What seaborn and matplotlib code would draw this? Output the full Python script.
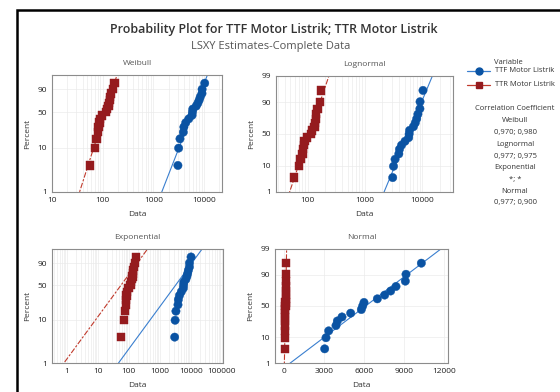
import numpy as np
import pandas as pd
import matplotlib
matplotlib.use('Agg')
import matplotlib.pyplot as plt
import seaborn as sns
from matplotlib.lines import Line2D
from matplotlib.patches import Rectangle
from matplotlib.ticker import LogLocator, NullFormatter
from statistics import NormalDist

# Data (sorted times, n = 17 each)
ttf = [3050, 3150, 3350, 3900, 4000, 4350, 5000, 5800, 5900, 6000,
       7000, 7550, 8000, 8400, 9100, 9150, 10300]
ttr = [57, 70, 75, 81, 83, 86, 88, 98, 115, 120,
       131, 135, 138, 141, 148, 162, 172]
series_names = ['TTF Motor Listrik', 'TTR Motor Listrik']

weibull_pct_ticks = [1, 10, 50, 90]
normal_pct_ticks = [1, 10, 50, 90, 99]
weibull_x_ticks = [10, 100, 1000, 10000]
lognormal_x_ticks = [100, 1000, 10000]
exponential_x_ticks = [1, 10, 100, 1000, 10000, 100000]
normal_x_ticks = [0, 3000, 6000, 9000, 12000]

corr_labels = ['Weibull', '0,970; 0,980', 'Lognormal', '0,977; 0,975',
               'Exponential', '*; *', 'Normal', '0,977; 0,900']

# colours
pt_colors = {'TTF Motor Listrik': '#0a53a3', 'TTR Motor Listrik': '#951b1e'}
ln_colors = {'TTF Motor Listrik': '#3a7fcf', 'TTR Motor Listrik': '#c0392b'}
marker_map = {'TTF Motor Listrik': 'o', 'TTR Motor Listrik': 's'}

nd = NormalDist()


def tf_weib(p):
    p = np.asarray(p, dtype=float)
    return np.log(-np.log(1 - p))


def tf_norm(p):
    return np.array([nd.inv_cdf(v) for v in np.atleast_1d(p)])


def median_ranks(n):
    i = np.arange(1, n + 1)
    return (i - 0.3) / (n + 0.4)


# long table
rows = []
for name, vals in zip(series_names, [ttf, ttr]):
    p = median_ranks(len(vals))
    for v, pp in zip(sorted(vals), p):
        rows.append({'Variable': name, 'Data': v, 'p': pp})
df = pd.DataFrame(rows)
df['w'] = tf_weib(df['p'])
df['z'] = tf_norm(df['p'])

pgrid = np.linspace(0.004, 0.9975, 400)


def lsxy_line(kind, x, p):
    x = np.asarray(x, dtype=float)
    if kind == 'weibull':
        b, a = np.polyfit(tf_weib(p), np.log(x), 1)
        return np.exp(a + b * tf_weib(pgrid)), tf_weib(pgrid)
    if kind == 'lognormal':
        b, a = np.polyfit(tf_norm(p), np.log(x), 1)
        return np.exp(a + b * tf_norm(pgrid)), tf_norm(pgrid)
    if kind == 'exponential':
        q = -np.log(1 - p)
        theta = np.sum(x * q) / np.sum(q * q)
        return theta * -np.log(1 - pgrid), tf_weib(pgrid)
    b, a = np.polyfit(tf_norm(p), x, 1)
    return a + b * tf_norm(pgrid), tf_norm(pgrid)


sns.set_style('white')
plt.rcParams['font.family'] = ['Open Sans', 'DejaVu Sans']

W, H = 560, 392
fig = plt.figure(figsize=(W / 100, H / 100), dpi=100)


def px_axes(x0, y0, x1, y1):
    return fig.add_axes([x0 / W, 1 - y1 / H, (x1 - x0) / W, (y1 - y0) / H])


def ftext(x, y, s, **kw):
    fig.text(x / W, 1 - y / H, s, **kw)


panels = [
    ('Weibull', 'weibull', (52, 75, 222, 192), (10, 22600), weibull_x_ticks),
    ('Lognormal', 'lognormal', (276, 76, 453, 192), (28, 34400), lognormal_x_ticks),
    ('Exponential', 'exponential', (52, 249, 223, 363), (0.34, 110000), exponential_x_ticks),
    ('Normal', 'normal', (275, 249, 448, 363), (-675, 12300), normal_x_ticks),
]

for title, kind, box, xlim, xticks in panels:
    ax = px_axes(*box)
    weib_like = kind in ('weibull', 'exponential')
    ycol = 'w' if weib_like else 'z'

    for name in series_names:
        sub = df[df['Variable'] == name]
        lx, ly = lsxy_line(kind, sub['Data'].values, sub['p'].values)
        ls = '-' if name == series_names[0] else (0, (5, 1.5, 2, 1.5))
        ax.plot(lx, ly, color=ln_colors[name], lw=0.8, linestyle=ls, zorder=2)

    sns.scatterplot(data=df, x='Data', y=ycol, hue='Variable', style='Variable',
                    palette=pt_colors, markers=marker_map, s=36,
                    edgecolor='face', linewidth=0.3, legend=False, ax=ax, zorder=3)

    if kind != 'normal':
        ax.set_xscale('log')
        ax.xaxis.set_minor_locator(LogLocator(base=10, subs=np.arange(2, 10)))
        ax.xaxis.set_minor_formatter(NullFormatter())
    ax.set_xlim(*xlim)
    ax.set_xticks(xticks)
    ax.set_xticklabels([str(t) for t in xticks])

    if weib_like:
        ax.set_ylim(tf_weib(0.01), tf_weib(0.993))
        ax.set_yticks(tf_weib(np.array(weibull_pct_ticks) / 100))
        ax.set_yticklabels([str(t) for t in weibull_pct_ticks])
    else:
        ax.set_ylim(nd.inv_cdf(0.01), nd.inv_cdf(0.99))
        ax.set_yticks(tf_norm(np.array(normal_pct_ticks) / 100))
        ax.set_yticklabels([str(t) for t in normal_pct_ticks])

    ax.grid(True, which='both', color='#ebebeb', lw=0.5)
    ax.set_axisbelow(True)
    ax.tick_params(which='major', labelsize=6, length=2, width=0.6,
                   color='#808080', pad=1.5, labelcolor='#222222')
    ax.tick_params(which='minor', length=0)
    for s in ax.spines.values():
        s.set_color('#8c8c8c')
        s.set_linewidth(0.8)

    ax.set_title(title, fontsize=6, color='#555555', pad=7)
    ax.set_xlabel('Data', fontsize=6, color='#333333', labelpad=5)
    ax.set_ylabel('Percent', fontsize=6, color='#333333', labelpad=5)

# titles
ftext(274, 29, 'Probability Plot for TTF Motor Listrik; TTR Motor Listrik',
      ha='center', va='center', fontsize=9, fontweight='semibold', color='#333333')
ftext(271, 46, 'LSXY Estimates-Complete Data', ha='center', va='center',
      fontsize=8, color='#555555')

# legend
ftext(508, 62, 'Variable', ha='center', va='center', fontsize=5.5, color='#333333')
for name, yy in zip(series_names, [71, 85]):
    fig.add_artist(Line2D([467 / W, 490 / W], [1 - yy / H, 1 - yy / H],
                          color=ln_colors[name], lw=0.9,
                          transform=fig.transFigure))
    fig.add_artist(Line2D([478.5 / W], [1 - yy / H], color=pt_colors[name],
                          marker=marker_map[name], markersize=5, lw=0,
                          transform=fig.transFigure))
    ftext(495, yy, name, ha='left', va='center', fontsize=5.5, color='#333333')

ftext(515, 109, 'Correlation Coefficient', ha='center', va='center',
      fontsize=5.5, color='#333333')
for k, lab in enumerate(corr_labels):
    ftext(515, 121 + k * 11.7, lab, ha='center', va='center', fontsize=5.5, color='#333333')

# document frame around the figure
fig.add_artist(Rectangle((16.5 / W, -0.05), 1.2, 1 - 9.5 / H + 0.05,
                         transform=fig.transFigure, fill=False,
                         edgecolor='black', lw=1.8))

fig.savefig('out.png', dpi=100)
